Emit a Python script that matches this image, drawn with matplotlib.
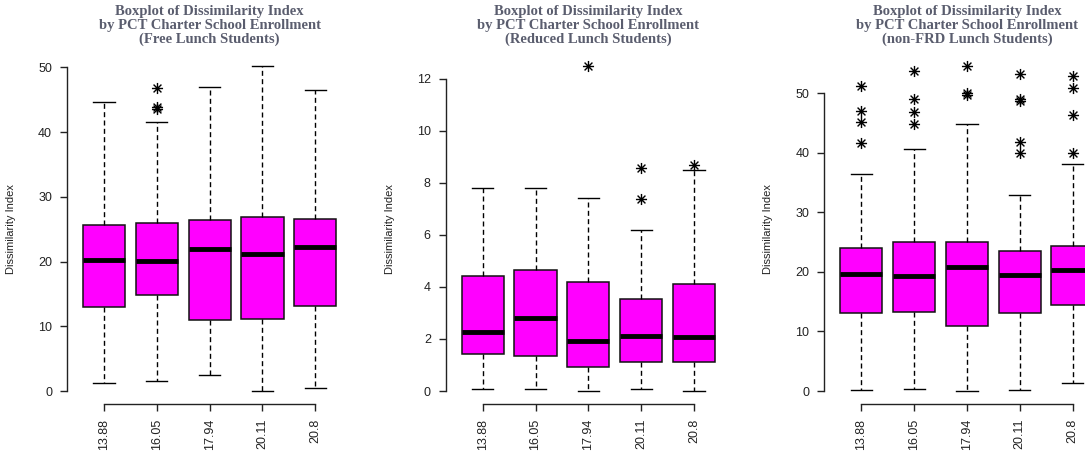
import matplotlib
matplotlib.use("Agg")
import matplotlib.pyplot as plt
from matplotlib.path import Path

# percent charter enrollment groups (x categories)
groups = ["13.88", "16.05", "17.94", "20.11", "20.8"]

titles = [
    "Boxplot of Dissimilarity Index\nby PCT Charter School Enrollment\n(Free Lunch Students)",
    "Boxplot of Dissimilarity Index\nby PCT Charter School Enrollment\n(Reduced Lunch Students)",
    "Boxplot of Dissimilarity Index\nby PCT Charter School Enrollment\n(non-FRD Lunch Students)",
]

# free lunch
free_lo = [1.3, 1.5, 2.4, 0.0, 0.4]
free_q1 = [13.0, 14.8, 10.9, 11.05, 13.1]
free_med = [20.3, 20.1, 22.0, 21.2, 22.2]
free_q3 = [25.6, 26.0, 26.4, 26.9, 26.5]
free_hi = [44.6, 41.5, 47.0, 50.2, 46.5]
free_out = [[], [46.8, 43.9, 43.5], [], [], []]

# reduced lunch
red_lo = [0.09, 0.09, 0.0, 0.09, 0.0]
red_q1 = [1.43, 1.33, 0.91, 1.11, 1.11]
red_med = [2.27, 2.81, 1.94, 2.11, 2.06]
red_q3 = [4.42, 4.65, 4.17, 3.54, 4.13]
red_hi = [7.82, 7.82, 7.40, 6.17, 8.51]
red_out = [[], [], [12.49], [8.57, 7.39], [8.70]]

# non-FRD lunch
non_lo = [0.2, 0.4, 0.0, 0.2, 1.4]
non_q1 = [13.06, 13.2, 10.9, 13.06, 14.5]
non_med = [19.7, 19.3, 20.9, 19.5, 20.3]
non_q3 = [23.99, 25.1, 25.1, 23.5, 24.3]
non_hi = [36.4, 40.6, 44.8, 32.9, 38.1]
non_out = [[51.2, 47.1, 45.2, 41.6], [53.7, 49.0, 46.8, 44.9],
           [54.6, 50.1, 49.8], [53.3, 49.1, 48.8, 41.9, 40.0],
           [53.0, 50.9, 46.4, 40.0]]

panels = [
    (free_lo, free_q1, free_med, free_q3, free_hi, free_out, [0, 10, 20, 30, 40, 50]),
    (red_lo, red_q1, red_med, red_q3, red_hi, red_out, [0, 2, 4, 6, 8, 10, 12]),
    (non_lo, non_q1, non_med, non_q3, non_hi, non_out, [0, 10, 20, 30, 40, 50]),
]

# R style asterisk (pch = 8): a plus laid over an x
d = 0.707
star = Path([(-1, 0), (1, 0), (0, -1), (0, 1), (-d, -d), (d, d), (-d, d), (d, -d)],
            [Path.MOVETO, Path.LINETO] * 4)

plt.rcParams["font.family"] = ["Liberation Sans", "DejaVu Sans"]

W, H = 1085, 457
fig = plt.figure(figsize=(W / 100, H / 100), dpi=100)

lefts = [67, 445.7, 824.3]
for k, (lo, q1, med, q3, hi, out, yt) in enumerate(panels):
    ax = fig.add_axes([lefts[k] / W, (H - 404) / H, 285.3 / W, 351 / H])
    stats = []
    for i in range(len(groups)):
        stats.append(dict(whislo=lo[i], q1=q1[i], med=med[i], q3=q3[i],
                          whishi=hi[i], fliers=out[i], label=groups[i]))
    ax.bxp(stats, positions=range(1, 6), widths=0.8, capwidths=0.4,
           patch_artist=True,
           boxprops=dict(facecolor="#ff00ff", edgecolor="#111111", linewidth=1.1),
           medianprops=dict(color="black", linewidth=3.5, solid_capstyle="butt"),
           whiskerprops=dict(color="black", linewidth=1, linestyle=(0, (3.6, 2.4))),
           capprops=dict(color="black", linewidth=1),
           flierprops=dict(marker=star, markersize=8, markerfacecolor="none",
                           markeredgecolor="black", markeredgewidth=1.0, linestyle="none"))

    # data range padded 4% each side
    vals = lo + hi + [v for o in out for v in o]
    y0, y1 = min(vals), max(vals)
    pad = 0.04 * (y1 - y0)
    ax.set_ylim(y0 - pad, y1 + pad)
    ax.set_xlim(0.3, 5.7)

    for s in ["top", "right"]:
        ax.spines[s].set_visible(False)
    ax.spines["left"].set_bounds(yt[0], yt[-1])
    ax.spines["bottom"].set_bounds(1, 5)
    for s in ["left", "bottom"]:
        ax.spines[s].set_linewidth(1)
        ax.spines[s].set_color("#222222")
    ax.set_yticks(yt)
    ax.set_xticks(range(1, 6))
    ax.set_xticklabels(groups, rotation=90, va="top", ha="center")
    ax.tick_params(axis="both", direction="out", length=5.2, width=1,
                   color="#222222", labelsize=9, labelcolor="#222222", pad=5.5)
    ax.set_ylabel("Dissimilarity Index", fontsize=8, color="#222222")
    ax.yaxis.set_label_coords(-51 / 285.3, 0.5)
    ax.text(0.5, (404 - 25.5) / 351, titles[k], transform=ax.transAxes,
            ha="center", va="center", fontsize=10.5, fontweight="bold",
            family="Liberation Serif", color="#5a5d6e", linespacing=1.1)

fig.savefig("out.png", dpi=100)
